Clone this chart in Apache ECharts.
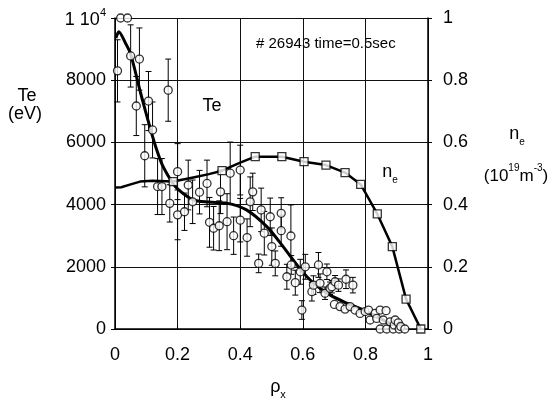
<!DOCTYPE html>
<html><head><meta charset="utf-8">
<script src="https://cdn.jsdelivr.net/npm/echarts@6/dist/echarts.min.js"></script>
<style>html,body{margin:0;padding:0;background:#fff}#c{width:556px;height:407px}</style>
</head><body><div id="c"></div>
<script>
// ---- data ----
const xTicks = [0, 0.2, 0.4, 0.6, 0.8, 1];
const teTicks = [0, 2000, 4000, 6000, 8000, 10000];
const neTicks = [0, 0.2, 0.4, 0.6, 0.8, 1];

const teX = [0.008,0.018,0.040,0.050,0.068,0.078,0.095,0.107,0.120,0.136,0.150,0.170,0.175,0.200,0.200,0.222,0.234,0.248,0.270,0.294,0.302,0.315,0.333,0.337,0.358,0.368,0.379,0.400,0.400,0.422,0.432,0.440,0.459,0.467,0.477,0.496,0.501,0.512,0.531,0.531,0.549,0.562,0.563,0.576,0.592,0.597,0.608,0.629,0.634,0.650,0.655,0.671,0.677,0.687,0.693,0.701,0.703,0.714,0.719,0.735,0.738,0.751,0.760,0.767,0.783,0.799,0.810,0.815,0.831,0.836,0.847,0.847,0.857,0.866,0.868,0.879,0.889,0.892,0.895,0.905,0.908,0.913,0.926];
const teY = [8300,10000,10000,8780,7170,8680,5570,7330,6400,4580,4580,7680,4040,5060,3670,3770,4630,4090,4400,4680,3430,3240,3320,4410,3450,5010,3000,5110,3500,2940,4090,4410,2110,3830,3080,3610,2650,2110,3720,3160,1680,2990,2060,1490,1840,610,2000,1200,1410,2060,1470,1150,1840,1310,1360,790,1520,1410,720,640,1600,720,1410,610,500,560,610,290,500,340,610,0,290,590,0,230,0,130,290,200,0,80,0];
const teErr = [1000,0,0,1000,950,1000,1000,950,900,900,900,1000,600,900,800,600,800,700,700,750,800,700,800,700,900,1000,600,800,700,600,800,600,300,700,700,600,600,400,500,500,400,1000,300,400,400,300,400,300,300,400,300,200,250,200,200,0,200,200,0,0,300,0,250,0,0,0,0,0,0,0,0,0,0,0,0,0,0,0,0,0,0,0,0];

const teFitX = [0.003,0.012,0.033,0.050,0.082,0.114,0.130,0.150,0.178,0.198,0.250,0.300,0.360,0.420,0.485,0.537,0.590,0.635,0.688,0.741,0.794,0.836,0.879,0.920];
const teFitY = [9350,9560,9200,8840,7580,6400,5860,5300,4790,4520,4150,4080,4040,3830,3290,2650,1950,1470,1090,830,610,400,180,0];

const neFitX = [0,0.02,0.05,0.08,0.12,0.186,0.25,0.30,0.342,0.40,0.448,0.533,0.604,0.674,0.735,0.785,0.838,0.886,0.93,0.977];
const neFitY = [0.455,0.456,0.465,0.474,0.477,0.474,0.487,0.498,0.509,0.535,0.554,0.554,0.538,0.527,0.503,0.465,0.37,0.265,0.096,0];

const neSqX = [0.186,0.342,0.448,0.533,0.604,0.674,0.735,0.785,0.838,0.886,0.93,0.977];
const neSqY = [0.474,0.509,0.554,0.554,0.538,0.527,0.503,0.465,0.37,0.265,0.096,0];

// ---- chart ----
const FONT = '"Liberation Sans", Arial, sans-serif';
const chart = echarts.init(document.getElementById('c'), null, {renderer: 'canvas'});

const zip = (a, b) => a.map((v, i) => [v, b[i]]);
const errData = teX.map((x, i) => [x, teY[i] - teErr[i], teY[i] + teErr[i], teErr[i]]).filter(d => d[3] > 0);

const supRich = {
  b: {fontSize: 18, fontFamily: FONT, color: '#000', lineHeight: 22, verticalAlign: 'bottom'},
  sup: {fontSize: 11, fontFamily: FONT, color: '#000', lineHeight: 22, verticalAlign: 'top'}
};

chart.setOption({
  animation: false,
  backgroundColor: '#fff',
  grid: {left: 115, right: 128, top: 18, bottom: 78},
  xAxis: {
    type: 'value', min: 0, max: 1, interval: 0.2,
    axisLine: {show: true, lineStyle: {color: '#000', width: 1.5}},
    axisTick: {show: true, inside: true, length: 4, lineStyle: {color: '#000'}},
    splitLine: {show: true, lineStyle: {color: '#111', width: 1}},
    axisLabel: {fontSize: 18, fontFamily: FONT, color: '#000', margin: 17,
      formatter: v => { const t = xTicks.find(k => Math.abs(k - v) < 1e-9); return t === undefined ? '' : String(t); }}
  },
  yAxis: [{
    type: 'value', min: 0, max: 10000, interval: 2000, position: 'left',
    axisLine: {show: true, lineStyle: {color: '#000', width: 1.5}},
    axisTick: {show: true, length: 4, lineStyle: {color: '#000'}},
    splitLine: {show: true, lineStyle: {color: '#111', width: 1}},
    axisLabel: {fontSize: 18, fontFamily: FONT, color: '#000', margin: 9, rich: supRich,
      formatter: v => v === teTicks[5] ? '{b|1 10}{sup|4}' : String(v)}
  }, {
    type: 'value', min: 0, max: 1, interval: 0.2, position: 'right',
    axisLine: {show: true, lineStyle: {color: '#000', width: 1.5}},
    axisTick: {show: true, length: 4, lineStyle: {color: '#000'}},
    splitLine: {show: false},
    axisLabel: {fontSize: 18, fontFamily: FONT, color: '#000', margin: 15,
      formatter: v => { const t = neTicks.find(k => Math.abs(k - v) < 1e-9); return t === undefined ? '' : String(t); }}
  }],
  series: [
    {
      type: 'custom', name: 'err', yAxisIndex: 0, z: 2,
      data: errData,
      renderItem: (params, api) => {
        const x = api.value(0), lo = api.value(1), hi = api.value(2);
        const top = Math.min(hi, 10000);
        const p1 = api.coord([x, lo]), p2 = api.coord([x, top]);
        const w = 3;
        const st = {stroke: '#000', lineWidth: 1};
        const ch = [
          {type: 'line', shape: {x1: p1[0], y1: p1[1], x2: p2[0], y2: p2[1]}, style: st},
          {type: 'line', shape: {x1: p1[0] - w, y1: p1[1], x2: p1[0] + w, y2: p1[1]}, style: st}
        ];
        if (hi <= 10000) ch.push({type: 'line', shape: {x1: p2[0] - w, y1: p2[1], x2: p2[0] + w, y2: p2[1]}, style: st});
        return {type: 'group', children: ch};
      }
    },
    {
      type: 'line', name: 'Te fit', yAxisIndex: 0, z: 3,
      data: zip(teFitX, teFitY), smooth: 0.3, showSymbol: false, symbol: 'none',
      lineStyle: {color: '#000', width: 3}
    },
    {
      type: 'line', name: 'ne fit', yAxisIndex: 1, z: 3,
      data: zip(neFitX, neFitY), smooth: false, showSymbol: false, symbol: 'none',
      lineStyle: {color: '#000', width: 2.5, join: 'round'}
    },
    {
      type: 'scatter', name: 'Te', yAxisIndex: 0, z: 5,
      data: zip(teX, teY), symbol: 'circle', symbolSize: 8,
      itemStyle: {color: '#fff', borderColor: '#000', borderWidth: 1.3}
    },
    {
      type: 'scatter', name: 'ne', yAxisIndex: 1, z: 5,
      data: zip(neSqX, neSqY), symbol: 'rect', symbolSize: 8,
      itemStyle: {color: '#fff', borderColor: '#000', borderWidth: 1.3}
    }
  ],
  graphic: [
    {type: 'text', x: 27, y: 96, style: {text: 'Te', font: '18px ' + FONT, fill: '#000', align: 'center', verticalAlign: 'middle'}},
    {type: 'text', x: 25, y: 114, style: {text: '(eV)', font: '18px ' + FONT, fill: '#000', align: 'center', verticalAlign: 'middle'}},
    {type: 'text', x: 517, y: 136, style: {
      text: '{b|n}{s|e}', align: 'center', verticalAlign: 'middle',
      rich: {b: {fontSize: 18, fontFamily: FONT, fill: '#000', lineHeight: 22, verticalAlign: 'top'},
             s: {fontSize: 10, fontFamily: FONT, fill: '#000', lineHeight: 22, verticalAlign: 'bottom'}}}},
    {type: 'text', x: 516, y: 174, style: {
      text: '{b|(10}{sup|19}{b|m}{sup|-3}{b|)}', align: 'center', verticalAlign: 'middle',
      rich: {b: {fontSize: 17, fontFamily: FONT, fill: '#000', lineHeight: 22, verticalAlign: 'bottom'},
             sup: {fontSize: 10, fontFamily: FONT, fill: '#000', lineHeight: 22, verticalAlign: 'top'}}}},
    {type: 'text', x: 278, y: 389, style: {
      text: '{b|ρ}{s|x}', align: 'center', verticalAlign: 'middle',
      rich: {b: {fontSize: 18, fontFamily: FONT, fill: '#000', lineHeight: 22, verticalAlign: 'top'},
             s: {fontSize: 11, fontFamily: FONT, fill: '#000', lineHeight: 22, verticalAlign: 'bottom'}}}},
    {type: 'text', x: 212, y: 106, style: {text: 'Te', font: '18px ' + FONT, fill: '#000', align: 'center', verticalAlign: 'middle'}},
    {type: 'text', x: 390, y: 174, style: {
      text: '{b|n}{s|e}', align: 'center', verticalAlign: 'middle',
      rich: {b: {fontSize: 18, fontFamily: FONT, fill: '#000', lineHeight: 22, verticalAlign: 'top'},
             s: {fontSize: 10, fontFamily: FONT, fill: '#000', lineHeight: 22, verticalAlign: 'bottom'}}}},
    {type: 'text', x: 256, y: 44, style: {text: '# 26943 time=0.5sec', font: '15px ' + FONT, fill: '#000', align: 'left', verticalAlign: 'middle'}}
  ]
});
</script></body></html>
